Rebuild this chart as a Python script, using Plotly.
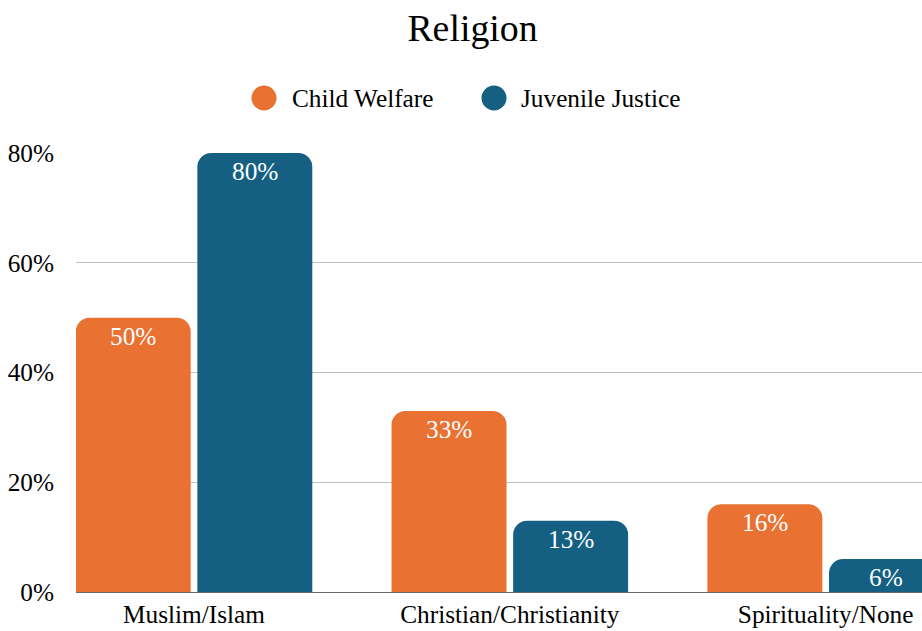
import plotly.graph_objects as go

# Survey results: religion by system
categories = ["Muslim/Islam", "Christian/Christianity", "Spirituality/None"]
series_names = ["Child Welfare", "Juvenile Justice"]
child_welfare = [50, 33, 16]
juvenile_justice = [80, 13, 6]
y_ticks = [0, 20, 40, 60, 80]
y_tick_labels = ["0%", "20%", "40%", "60%", "80%"]

ORANGE = "#E97132"
BLUE = "#156082"
FONT = "Liberation Serif"
FS = 25.3
TITLE_FS = 37.8

W, H = 922, 631
M_L, M_R, M_T, M_B = 76, 0, 153, 39

bar_w = 0.364
half_gap = 0.0105

plot_w = W - M_L - M_R
plot_h = H - M_T - M_B
def px_to_paper_x(px):
    return (px - M_L) / plot_w
def px_to_paper_y(py):
    return (H - M_B - py) / plot_h

fig = go.Figure()
annotations = []
for name, vals, color, off in [
    (series_names[0], child_welfare, ORANGE, -(bar_w + half_gap)),
    (series_names[1], juvenile_justice, BLUE, half_gap),
]:
    xs = list(range(len(categories)))
    fig.add_trace(go.Bar(
        name=name,
        x=xs,
        y=vals,
        width=bar_w,
        offset=off,
        marker=dict(color=color, line=dict(width=0)),
        showlegend=False,
    ))
    # value labels just inside the top of each bar
    for xi, v in zip(xs, vals):
        annotations.append(dict(
            text=f"{v}%", x=xi + off + bar_w / 2, y=v,
            xref="x", yref="y", xanchor="center", yanchor="top",
            yshift=-2, showarrow=False,
            font=dict(family=FONT, size=FS, color="white"),
        ))

# Legend drawn as circles + labels
legend_items = [
    (series_names[0], ORANGE, 264, 290),
    (series_names[1], BLUE, 494, 519),
]
shapes = []
legend_y = 98
for name, color, cx, tx in legend_items:
    shapes.append(dict(
        type="circle", xref="paper", yref="paper",
        xsizemode="pixel", ysizemode="pixel",
        xanchor=px_to_paper_x(cx), yanchor=px_to_paper_y(legend_y),
        x0=-12.5, x1=12.5, y0=-12.5, y1=12.5,
        fillcolor=color, line=dict(width=0),
    ))
    annotations.append(dict(
        text=name, xref="paper", yref="paper",
        x=px_to_paper_x(tx), y=px_to_paper_y(legend_y),
        xanchor="left", yanchor="middle", showarrow=False,
        font=dict(family=FONT, size=FS, color="black"),
    ))

fig.update_layout(
    width=W, height=H,
    margin=dict(l=M_L, r=M_R, t=M_T, b=M_B, pad=0),
    paper_bgcolor="white", plot_bgcolor="white",
    barcornerradius=14,
    title=dict(
        text="Religion", font=dict(family=FONT, size=TITLE_FS, color="black"),
        x=px_to_paper_x(472.5), xref="paper", xanchor="center",
        y=1 - 28 / H, yref="container", yanchor="middle",
    ),
    xaxis=dict(
        range=[-0.3737, 2.305],
        tickmode="array", tickvals=list(range(len(categories))), ticktext=categories,
        tickfont=dict(family=FONT, size=FS, color="black"),
        showgrid=False, zeroline=False, showline=False, ticks="",
        ticklabelstandoff=5,
        fixedrange=True,
    ),
    yaxis=dict(
        range=[0, 80],
        tickmode="array", tickvals=y_ticks, ticktext=y_tick_labels,
        tickfont=dict(family=FONT, size=FS, color="black"),
        showgrid=True, gridcolor="#C0C0C0", gridwidth=1,
        zeroline=True, zerolinecolor="#6A6A6A", zerolinewidth=1,
        showline=False, ticks="", ticklabelstandoff=21,
        fixedrange=True,
    ),
    shapes=shapes,
    annotations=annotations,
    showlegend=False,
)

fig.write_html("out.html")
